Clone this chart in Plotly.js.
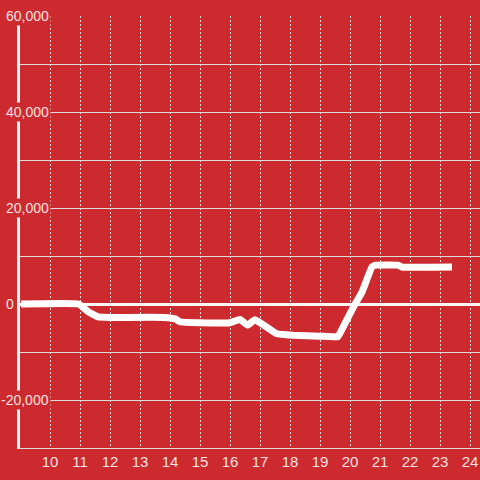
<!DOCTYPE html>
<html>
<head>
<meta charset="utf-8">
<script src="https://cdn.plot.ly/plotly-3.0.1.min.js"></script>
<style>html,body{margin:0;padding:0;background:#cc2a2e;}#chart{width:480px;height:480px;}</style>
</head>
<body>
<div id="chart"></div>
<script>
const xValues = [9.03, 10.95, 11.27, 11.6, 12.0, 13.8, 14.17, 14.33, 15.0, 16.0, 16.33, 16.58, 16.83, 17.56, 18.1, 19.0, 19.6, 19.77, 20.1, 20.4, 20.73, 20.85, 21.6, 21.73, 23.4];
const yValues = [0, 0, -1600, -2700, -2800, -2800, -3100, -3700, -3900, -3900, -3200, -4400, -3300, -6200, -6500, -6700, -6800, -4800, -800, 2500, 7700, 8100, 8100, 7700, 7700];
const yTickVals = [-20000, 0, 20000, 40000, 60000];
const yTickText = ['-20,000', '0', '20,000', '40,000', '60,000'];
const xTickVals = [10, 11, 12, 13, 14, 15, 16, 17, 18, 19, 20, 21, 22, 23, 24];

const bg = '#cc2a2e';
const labelColor = '#f6e2e2';

const annotations = yTickVals.map((v, i) => ({
  xref: 'paper', yref: 'y',
  x: yTickText[i].length === 1 ? (16 - 20) / 460 : (51 - 20) / 460,
  y: v, xanchor: 'right', yanchor: 'middle',
  text: yTickText[i], showarrow: false,
  bgcolor: bg, borderpad: 1,
  font: {family: 'Liberation Sans, Arial, sans-serif', size: 14, color: labelColor}
}));

Plotly.newPlot('chart', [{
  x: xValues, y: yValues, type: 'scatter', mode: 'lines',
  line: {color: '#ffffff', width: 7, shape: 'spline', smoothing: 0.3},
  hoverinfo: 'none'
}], {
  width: 480, height: 480,
  margin: {l: 20, r: 0, t: 16, b: 32},
  paper_bgcolor: bg, plot_bgcolor: bg,
  showlegend: false,
  xaxis: {
    range: [9, 24.333], tickvals: xTickVals, ticktext: xTickVals.map(String),
    showgrid: true, gridcolor: '#dddddd', gridwidth: 1, griddash: '2px,2px',
    showline: true, linecolor: '#dddddd', linewidth: 1,
    zeroline: false, ticks: '',
    tickfont: {family: 'Liberation Sans, Arial, sans-serif', size: 15, color: labelColor}
  },
  yaxis: {
    range: [-30000, 60000], dtick: 10000, tick0: 0,
    showgrid: true, gridcolor: '#dddddd', gridwidth: 1,
    showline: true, linecolor: '#f4f4f4', linewidth: 3,
    zeroline: true, zerolinecolor: '#f8f8f8', zerolinewidth: 3,
    showticklabels: false, ticks: ''
  },
  annotations: annotations
}, {staticPlot: true});
</script>
</body>
</html>
